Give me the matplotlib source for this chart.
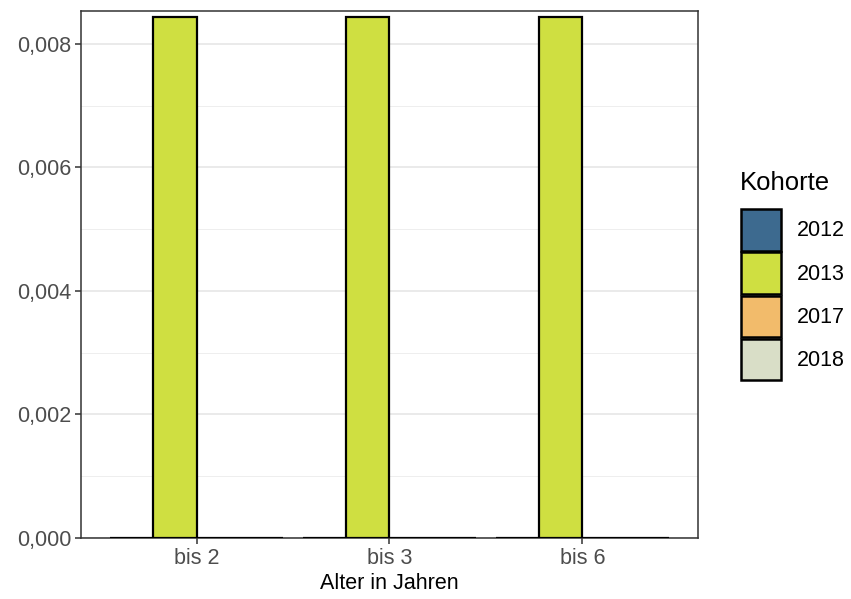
import numpy as np
import matplotlib.pyplot as plt
from matplotlib.patches import Rectangle
from matplotlib.ticker import MultipleLocator, FuncFormatter

plt.rcParams['font.family'] = ['Liberation Sans', 'DejaVu Sans']

alter = ['bis 2', 'bis 3', 'bis 6']
kohorten = ['2012', '2013', '2017', '2018']
werte = {
    '2012': [0.0, 0.0, 0.0],
    '2013': [0.00844, 0.00844, 0.00844],
    '2017': [0.0, 0.0, 0.0],
    '2018': [0.0, 0.0, 0.0],
}
farben = ['#3D6A8F', '#CFDF41', '#F2BB6B', '#D9DEC7']

W, H = 851, 599
fig = plt.figure(figsize=(W / 100, H / 100), dpi=100)
ax = fig.add_axes([81 / W, 1 - 538 / H, (698 - 81) / W, (538 - 11) / H])

x = np.arange(len(alter))
bw = 0.9 / len(kohorten)
for i, k in enumerate(kohorten):
    pos = x - 0.45 + bw * (i + 0.5)
    ax.bar(pos, werte[k], width=bw, color=farben[i], edgecolor='black',
           linewidth=1.6, zorder=3)

ax.set_xlim(-0.6, len(alter) - 0.4)
ax.set_ylim(0, 0.00853)
ax.set_xticks(x)
ax.set_xticklabels(alter)
ax.yaxis.set_major_locator(MultipleLocator(0.002))
ax.yaxis.set_minor_locator(MultipleLocator(0.001))
ax.yaxis.set_major_formatter(FuncFormatter(lambda v, p: f'{v:.3f}'.replace('.', ',')))
ax.grid(axis='y', which='major', color='#E6E6E6', linewidth=1.2, zorder=0)
ax.grid(axis='y', which='minor', color='#EBEBEB', linewidth=0.6, zorder=0)
ax.tick_params(axis='both', which='major', labelsize=15.5, labelcolor='#4D4D4D',
               color='#333333', length=4, width=1.1, pad=3)
ax.tick_params(axis='y', which='minor', length=0)
for s in ax.spines.values():
    s.set_color('#333333')
    s.set_linewidth(1.1)
ax.set_xlabel('Alter in Jahren', fontsize=15.5, color='black', labelpad=3)

# legend
leg = fig.add_axes([0, 0, 1, 1])
leg.set_xlim(0, W)
leg.set_ylim(H, 0)
leg.axis('off')
leg.text(740, 183, 'Kohorte', fontsize=18.5, va='center', ha='left')
for i, k in enumerate(kohorten):
    y0 = 209 + i * 43.3
    leg.add_patch(Rectangle((741, y0), 40, 41.5, facecolor=farben[i],
                            edgecolor='black', linewidth=1.8))
    leg.text(797, y0 + 22, k, fontsize=15.5, va='center', ha='left')

fig.savefig('out.png', dpi=100)
